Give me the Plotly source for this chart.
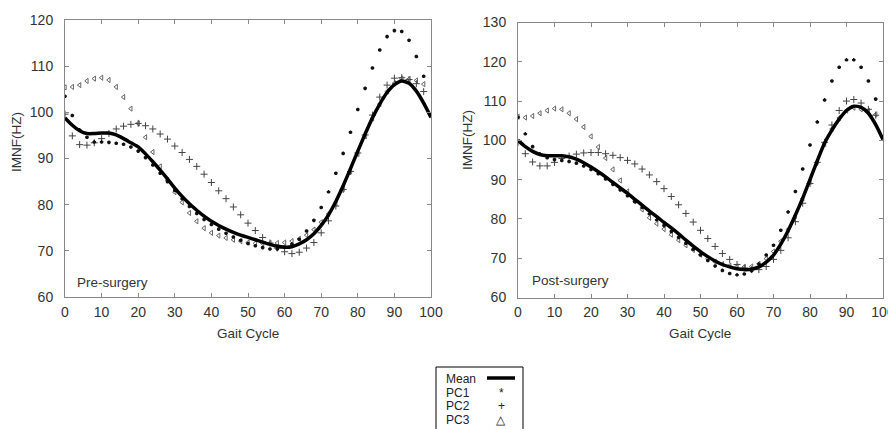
import plotly.graph_objects as go

# ---------------- data ----------------
x_mean = list(range(0, 101, 2))
x_pc = list(range(0, 99, 2))

pre_mean = [98.8, 97.2, 96.0, 95.4, 95.4, 95.5, 95.5, 95.1, 94.3, 93.4,
            92.5, 91.0, 89.3, 87.5, 85.6, 83.6, 81.8, 80.2, 78.8, 77.5,
            76.4, 75.5, 74.7, 74.0, 73.4, 72.9, 72.4, 71.9, 71.4, 71.0,
            70.8, 70.9, 71.5, 72.4, 73.7, 75.5, 77.8, 80.7, 84.1, 87.8,
            91.6, 95.3, 98.8, 101.8, 104.3, 106.0, 106.8, 106.3, 104.6, 102.0,
            98.9]
pre_pc1 = [103.5, 99.3, 96.2, 94.6, 93.6, 93.6, 93.5, 93.3, 93.1, 92.5,
           91.6, 90.2, 88.6, 86.8, 85.0, 83.1, 81.3, 79.6, 78.1, 76.8,
           75.7, 74.7, 73.8, 73.0, 72.3, 71.6, 71.1, 70.7, 70.4, 70.4,
           70.8, 71.5, 72.5, 74.3, 76.6, 79.4, 82.8, 86.8, 91.1, 95.7,
           100.6, 105.2, 109.6, 113.5, 116.4, 117.7, 117.5, 115.6, 112.1, 107.8]
pre_pc2 = [99.6, 94.9, 93.0, 92.9, 93.4, 94.3, 95.4, 96.4, 97.0, 97.4,
           97.6, 97.1, 96.4, 95.3, 94.2, 92.7, 91.3, 89.8, 88.3, 86.6,
           84.8, 83.0, 81.3, 79.5, 77.8, 76.0, 74.4, 72.9, 71.7, 70.6,
           69.8, 69.4, 69.7, 70.6, 71.8, 73.9, 76.5, 79.7, 83.3, 87.2,
           91.2, 95.1, 99.4, 103.3, 105.9, 107.4, 107.5, 107.1, 106.2, 104.5]
pre_pc3 = [105.4, 105.5, 105.9, 106.8, 107.3, 107.5, 107.0, 105.5, 103.3, 100.8,
           97.6, 94.6, 91.4, 88.3, 85.3, 82.7, 80.5, 78.2, 76.4, 74.9,
           73.9, 73.3, 72.8, 72.4, 72.1, 71.8, 71.6, 71.6, 71.7, 71.7,
           71.8, 72.1, 72.6, 73.4, 74.6, 76.2, 78.0, 80.3, 83.4, 87.2,
           91.0, 94.8, 98.7, 101.8, 104.5, 106.3, 107.3, 107.2, 106.9, 106.1]

post_mean = [100.0, 98.4, 97.2, 96.4, 96.1, 96.1, 96.1, 95.8, 95.2, 94.3,
             93.2, 92.0, 90.7, 89.3, 87.9, 86.5, 85.0, 83.5, 82.0, 80.6,
             79.1, 77.7, 76.2, 74.6, 73.1, 71.7, 70.4, 69.3, 68.4, 67.8,
             67.3, 67.1, 67.2, 67.8, 69.0, 70.8, 73.6, 77.0, 81.0, 85.3,
             90.0, 94.8, 99.3, 102.6, 105.4, 107.6, 108.7, 108.4, 106.9, 104.0,
             100.2]
post_pc1 = [105.9, 101.7, 98.4, 96.6, 95.6, 95.1, 94.9, 94.6, 94.2, 93.5,
            92.6, 91.5, 90.2, 88.8, 87.4, 85.9, 84.4, 82.9, 81.3, 79.8,
            78.3, 76.8, 75.3, 73.8, 72.3, 70.8, 69.4, 68.0, 66.9, 66.1,
            65.8, 66.0, 66.8, 68.6, 70.8, 73.3, 77.1, 81.8, 87.0, 92.7,
            98.8, 104.7, 110.3, 115.1, 118.6, 120.5, 120.5, 118.6, 115.1, 110.5]
post_pc2 = [99.5, 96.6, 94.5, 93.5, 93.5, 94.4, 95.4, 96.0, 96.5, 96.8,
            96.9, 96.9, 96.6, 96.2, 95.6, 94.9, 94.0, 92.7, 91.2, 89.5,
            87.7, 85.7, 83.6, 81.4, 79.2, 77.1, 75.0, 73.0, 71.2, 69.7,
            68.4, 67.5, 67.1, 67.1, 67.9, 69.7, 72.0, 75.2, 79.3, 84.0,
            89.0, 94.4, 99.5, 103.9, 107.6, 110.0, 110.4, 109.5, 107.9, 106.4]
post_pc3 = [106.0, 105.8, 106.2, 106.9, 107.6, 108.1, 107.9, 106.9, 105.4, 103.4,
            101.0, 98.3, 95.5, 92.6, 89.8, 87.0, 84.5, 82.4, 80.3, 78.8,
            77.4, 76.0, 74.6, 73.3, 72.1, 70.9, 69.9, 69.1, 68.5, 68.1,
            67.9, 67.8, 67.9, 68.6, 69.9, 71.7, 74.3, 77.3, 80.8, 85.2,
            89.4, 94.6, 99.1, 102.9, 105.7, 107.6, 108.3, 107.9, 107.5, 106.6]

panel_labels = ["Pre-surgery", "Post-surgery"]
legend_names = ["Mean", "PC1", "PC2", "PC3"]
legend_glyphs = ["", "*", "+", "\u25b3"]
x_ticks = list(range(0, 101, 10))

# ---------------- figure ----------------
# the page body has an 8px margin, so the figure is placed at (8, 8)
OFF = 8
W, H = 888, 421
fig = go.Figure()

panels = [
    (pre_mean, pre_pc1, pre_pc2, pre_pc3, "x", "y"),
    (post_mean, post_pc1, post_pc2, post_pc3, "x2", "y2"),
]
for mean, p1, p2, p3, xa, ya in panels:
    fig.add_trace(go.Scatter(x=x_pc, y=p3, mode="markers", xaxis=xa, yaxis=ya,
                             marker=dict(symbol="triangle-left-open", size=4.5, color="#666",
                                         line=dict(width=1, color="#666")),
                             showlegend=False))
    fig.add_trace(go.Scatter(x=x_pc, y=p2, mode="markers", xaxis=xa, yaxis=ya,
                             marker=dict(symbol="cross-thin-open", size=5, color="#444",
                                         line=dict(width=1, color="#444")),
                             showlegend=False))
    fig.add_trace(go.Scatter(x=x_pc, y=p1, mode="markers", xaxis=xa, yaxis=ya,
                             marker=dict(symbol="asterisk-open", size=3, color="#111",
                                         line=dict(width=1.5, color="#111")),
                             showlegend=False))
    fig.add_trace(go.Scatter(x=x_mean, y=mean, mode="lines", xaxis=xa, yaxis=ya,
                             line=dict(color="black", width=3.5, shape="spline", smoothing=0.6),
                             showlegend=False))

def px_x(p):
    return (p - OFF) / W

def px_y(p):
    return 1 - (p - OFF) / H

axis_common = dict(showgrid=False, zeroline=False, showline=True, linecolor="#888",
                   linewidth=1, mirror="ticks", ticks="inside", ticklen=4,
                   tickcolor="#888", tickfont=dict(size=14, color="#333"),
                   automargin=False)

fig.update_layout(
    width=W, height=H,
    margin=dict(l=0, r=0, t=0, b=0, autoexpand=False),
    paper_bgcolor="white", plot_bgcolor="white",
    font=dict(family="Liberation Sans, Arial, sans-serif", color="#333"),
    xaxis=dict(domain=[px_x(65), px_x(431)], range=[0, 100], tickvals=x_ticks,
               anchor="y", ticklabelstandoff=2, **axis_common),
    yaxis=dict(domain=[px_y(297), px_y(20)], range=[60, 120], dtick=10,
               anchor="x", ticklabelstandoff=8, **axis_common),
    xaxis2=dict(domain=[px_x(518), px_x(883)], range=[0, 100], tickvals=x_ticks,
                anchor="y2", ticklabelstandoff=2, **axis_common),
    yaxis2=dict(domain=[px_y(297.5), px_y(22.5)], range=[60, 130], dtick=10,
                anchor="x2", ticklabelstandoff=8, **axis_common),
)

def note(text, x, y, size, xanchor="center", angle=0, color="#333"):
    return dict(text=text, x=px_x(x), y=px_y(y), xref="paper", yref="paper",
                xanchor=xanchor, yanchor="middle", showarrow=False, textangle=angle,
                font=dict(size=size, color=color))

ann = []
# axis titles
ann.append(note("IMNF(HZ)", 17, 142, 13.5, angle=-90))
ann.append(note("IMNF(HZ)", 468, 140, 13.5, angle=-90))
ann.append(note("Gait Cycle", 248, 333, 13.5))
ann.append(note("Gait Cycle", 700, 333, 13.5))
# panel labels
ann.append(note(panel_labels[0], 75, 282, 13.5, xanchor="left"))
ann.append(note(panel_labels[1], 530, 280, 13.5, xanchor="left"))

# legend box (bottom edge runs off the page)
bx0, bx1, by0 = px_x(436), px_x(523), px_y(367)
shapes = [dict(type="path", xref="paper", yref="paper",
               path=f"M {bx0},-0.05 L {bx0},{by0} L {bx1},{by0} L {bx1},-0.05",
               line=dict(color="black", width=1), layer="above"),
          dict(type="line", xref="paper", yref="paper",
               x0=px_x(487), x1=px_x(515), y0=px_y(378), y1=px_y(378),
               line=dict(color="black", width=3.5))]
rows = [379, 392.5, 406, 419.5]
for name, glyph, yr in zip(legend_names, legend_glyphs, rows):
    ann.append(note(name, 444, yr, 12, xanchor="left", color="#222"))
    if glyph:
        ann.append(note(glyph, 501.5, yr, 12, color="#222"))

fig.update_layout(annotations=ann, shapes=shapes)
fig.write_html("out.html")
